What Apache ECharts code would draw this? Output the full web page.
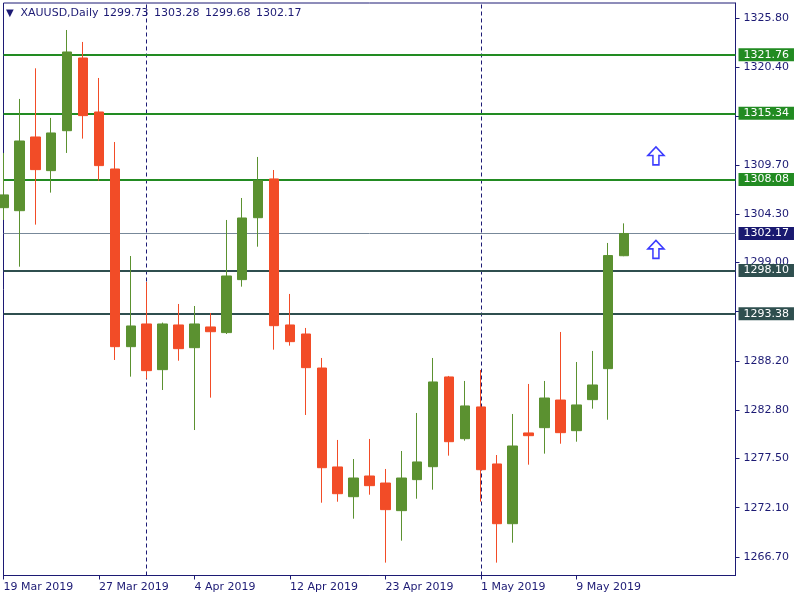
<!DOCTYPE html>
<html>
<head>
<meta charset="utf-8">
<script src="https://cdn.jsdelivr.net/npm/echarts@6/dist/echarts.min.js"></script>
<style>html,body{margin:0;padding:0;background:#fff}#c{width:800px;height:600px}</style>
</head>
<body>
<div id="c"></div>
<script>
const symbolName = 'XAUUSD,Daily';
const dates = ['19 Mar 2019','20 Mar 2019','21 Mar 2019','22 Mar 2019','25 Mar 2019','26 Mar 2019','27 Mar 2019','28 Mar 2019','29 Mar 2019','1 Apr 2019','2 Apr 2019','3 Apr 2019','4 Apr 2019','5 Apr 2019','8 Apr 2019','9 Apr 2019','10 Apr 2019','11 Apr 2019','12 Apr 2019','15 Apr 2019','16 Apr 2019','17 Apr 2019','18 Apr 2019','22 Apr 2019','23 Apr 2019','24 Apr 2019','25 Apr 2019','26 Apr 2019','29 Apr 2019','30 Apr 2019','1 May 2019','2 May 2019','3 May 2019','6 May 2019','7 May 2019','8 May 2019','9 May 2019','10 May 2019','13 May 2019','14 May 2019'];
const futureDates = ['15 May 2019','16 May 2019','17 May 2019','20 May 2019','21 May 2019','22 May 2019'];
const opens  = [1305.00,1304.67,1312.75,1309.06,1313.44,1321.41,1315.49,1309.24,1289.76,1292.25,1287.24,1292.14,1289.65,1291.92,1291.30,1297.11,1303.90,1308.15,1292.14,1291.15,1287.42,1276.57,1273.31,1275.58,1274.81,1271.78,1275.18,1276.60,1286.44,1279.67,1283.15,1276.90,1270.35,1280.30,1280.88,1283.91,1280.55,1283.95,1287.35,1299.73];
const closes = [1306.40,1312.31,1309.17,1313.19,1322.07,1315.09,1309.61,1289.76,1292.03,1287.13,1292.25,1289.54,1292.25,1291.40,1297.51,1303.87,1307.96,1292.06,1290.31,1287.46,1276.49,1273.64,1275.36,1274.52,1271.89,1275.36,1277.12,1285.89,1279.34,1283.26,1276.27,1270.35,1278.87,1280.00,1284.13,1280.33,1283.37,1285.56,1299.75,1302.17];
const lows   = [1303.65,1298.53,1303.14,1306.65,1311.00,1312.57,1307.96,1288.30,1286.47,1286.25,1285.01,1288.22,1280.62,1284.17,1291.15,1296.34,1300.72,1289.43,1289.87,1282.27,1272.65,1272.76,1270.90,1273.53,1266.08,1268.49,1273.09,1274.08,1277.81,1279.45,1272.76,1266.08,1268.27,1276.82,1278.03,1279.12,1279.34,1282.96,1281.75,1299.68];
const highs  = [1311.00,1316.92,1320.28,1314.84,1324.48,1323.17,1319.22,1312.20,1299.70,1296.85,1292.40,1294.44,1294.22,1293.45,1303.65,1306.06,1310.56,1309.13,1295.54,1291.81,1288.52,1279.53,1277.44,1279.64,1276.35,1278.32,1282.49,1288.52,1286.55,1286.00,1287.20,1277.88,1282.38,1285.67,1286.00,1291.37,1288.08,1289.29,1301.13,1303.28];
const xTickLabels = ['19 Mar 2019','27 Mar 2019','4 Apr 2019','12 Apr 2019','23 Apr 2019','1 May 2019','9 May 2019'];
const monthSeparators = ['1 Apr 2019','1 May 2019'];
const yTickLabels = [1266.70,1272.10,1277.50,1282.80,1288.20,1299.00,1304.30,1309.70,1320.40,1325.80];
const yTickMarks = [1266.70,1272.10,1277.50,1282.80,1288.20,1293.60,1299.00,1304.30,1309.70,1315.05,1320.40,1325.80];
const resistanceLevels = [1321.76,1315.34,1308.08];
const supportLevels = [1298.10,1293.38];
const currentPrice = 1302.17;
const arrowSignalIndex = [41,41];
const arrowSignalPrice = [1310.67,1300.42];

const NAVY = '#1c1a74';
const FONT = 'DejaVu Sans';
const GREEN = '#5b9130', RED = '#f24c27';

const categories = dates.concat(futureDates);
const candleData = opens.map((o,i)=>[o, closes[i], lows[i], highs[i]]);
const last = candleData.length - 1;
const lastOHLC = [opens[last], highs[last], lows[last], closes[last]].map(v=>v.toFixed(2));

function levelLine(v, lineColor, boxColor, width){
  return {
    yAxis: v,
    lineStyle: {color: lineColor, width: width, type: 'solid'},
    label: {show: true, position: 'end', formatter: v.toFixed(2), color: '#fff', backgroundColor: boxColor,
      fontFamily: FONT, fontSize: 11, lineHeight: 12, padding: [1,5,0,5], distance: 3}
  };
}

const txt = {color: NAVY, fontFamily: FONT, fontSize: 11, fontWeight: 'normal'};
const chart = echarts.init(document.getElementById('c'), null, {renderer: 'canvas'});
chart.setOption({
  animation: false,
  backgroundColor: '#fff',
  title: {
    left: 6, top: 8, padding: 0,
    text: '{t|▼}{s|' + symbolName + '}' + lastOHLC.map(v => '{v|' + v + '}').join(''),
    textStyle: {
      fontWeight: 'normal',
      rich: {
        t: Object.assign({}, txt, {fontSize: 10, width: 14.5}),
        s: Object.assign({}, txt, {width: 82.6}),
        v: Object.assign({}, txt, {width: 51})
      }
    }
  },
  grid: {left: 3.5, top: 3, right: 64.5, bottom: 24.5, show: true, borderColor: NAVY, borderWidth: 1, backgroundColor: '#fff', containLabel: false},
  xAxis: {
    type: 'category', data: categories, boundaryGap: false, min: 0, max: 45.75,
    axisLine: {lineStyle: {color: NAVY, width: 1}},
    axisTick: {show: true, inside: false, length: 4, lineStyle: {color: NAVY},
      interval: (i, v) => xTickLabels.includes(v)},
    axisLabel: {interval: (i, v) => xTickLabels.includes(v), align: 'left', margin: 6,
      color: NAVY, fontFamily: FONT, fontSize: 11},
    splitLine: {show: false}
  },
  yAxis: {
    type: 'value', position: 'right', min: 1264.67, max: 1327.44, scale: true,
    axisLine: {show: true, lineStyle: {color: NAVY, width: 1}},
    axisTick: {show: true, length: 4, lineStyle: {color: NAVY}, customValues: yTickMarks},
    axisLabel: {color: NAVY, fontFamily: FONT, fontSize: 11, margin: 8, customValues: yTickLabels,
      formatter: v => Number(v).toFixed(2)},
    splitLine: {show: false}
  },
  series: [
    {
      type: 'line', data: [], z: 1, silent: true,
      markLine: {
        silent: true, symbol: ['none','none'], z: 1,
        data: [
          {xAxis: monthSeparators[0], lineStyle: {color: NAVY, width: 1, type: [4,3]}, label: {show: false}},
          {xAxis: monthSeparators[1], lineStyle: {color: NAVY, width: 1, type: [4,3]}, label: {show: false}},
          levelLine(currentPrice, '#778899', '#191970', 1),
          ...resistanceLevels.map(v => levelLine(v, '#228b22', '#228b22', 2)),
          ...supportLevels.map(v => levelLine(v, '#2f4f4f', '#2f4f4f', 2))
        ]
      }
    },
    {
      type: 'candlestick', data: candleData, z: 10, barWidth: 10,
      itemStyle: {color: GREEN, color0: RED, borderColor: GREEN, borderColor0: RED, borderWidth: 1}
    },
    {
      type: 'scatter', z: 11, silent: true,
      data: arrowSignalIndex.map((x,i)=>[x, arrowSignalPrice[i]]),
      symbol: 'path://M8,0 L16,9 L11,9 L11,19 L5,19 L5,9 L0,9 Z',
      symbolSize: [16, 18],
      itemStyle: {color: '#ffffff', borderColor: '#0a0aff', borderWidth: 1.6}
    }
  ]
});
</script>
</body>
</html>
